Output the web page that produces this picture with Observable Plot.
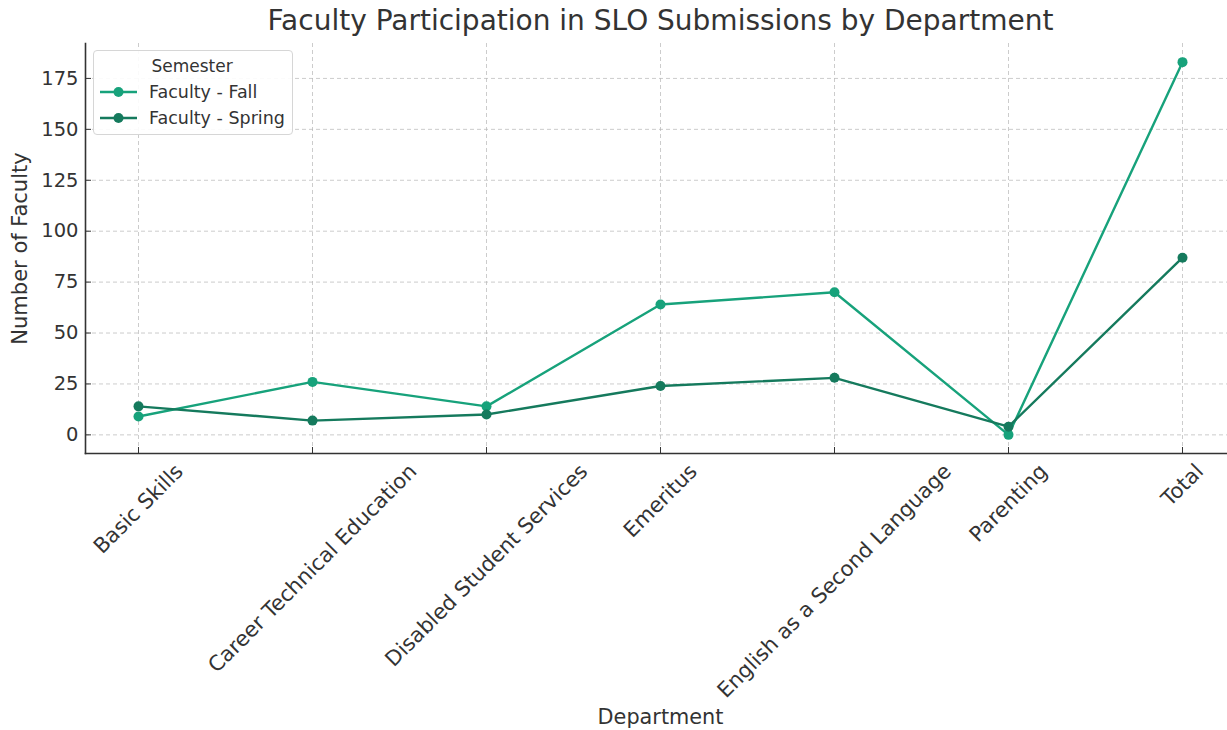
<!DOCTYPE html>
<html>
<head>
<meta charset="utf-8">
<script src="https://cdn.jsdelivr.net/npm/d3@7"></script>
<script src="https://cdn.jsdelivr.net/npm/@observablehq/plot@0.6"></script>
<style>
  html, body { margin: 0; padding: 0; background: white; }
  #wrap { position: relative; width: 1227px; height: 730px; font-family: "DejaVu Sans", sans-serif; }
  #legend { position: absolute; left: 93px; top: 50px; width: 200px; height: 85px; box-sizing: border-box;
    border: 1px solid #d6d6d6; border-radius: 4px; background: rgba(255,255,255,0.9); color: #333; }
  #legend .title { text-align: center; font-size: 17px; margin-top: 5px; margin-left: -2px; height: 23px; }
  #legend .item { display: flex; align-items: center; font-size: 17.5px; height: 26px; margin-left: 6px; }
  #legend svg { margin-right: 12px; }
</style>
</head>
<body>
<div id="wrap"></div>
<script>
const departments = ["Basic Skills", "Career Technical Education", "Disabled Student Services", "Emeritus", "English as a Second Language", "Parenting", "Total"];
const fall = [9, 26, 14, 64, 70, 0, 183];
const spring = [14, 7, 10, 24, 28, 4, 87];
const seriesNames = ["Faculty - Fall", "Faculty - Spring"];
const seriesColors = ["#17a27b", "#157a5d"];
const yTicks = [0, 25, 50, 75, 100, 125, 150, 175];
const title = "Faculty Participation in SLO Submissions by Department";
const xLabel = "Department";
const yLabel = "Number of Faculty";
const legendTitle = "Semester";

const values = [fall, spring];
const data = seriesNames.flatMap((s, i) => departments.map((d, j) => ({series: s, dept: d, value: values[i][j]})));

const tickFont = 21;
const ctx = document.createElement("canvas").getContext("2d");
ctx.font = `${tickFont}px "DejaVu Sans"`;

const gridStyle = {stroke: "#b8b8b8", strokeDasharray: "4,3", strokeWidth: 0.9, strokeOpacity: 0.8};

const marks = [
  Plot.gridX(departments, gridStyle),
  Plot.gridY(yTicks, gridStyle),
  Plot.axisY({ticks: yTicks, tickSize: -6, tickPadding: 13, fontSize: 19.5, label: null, stroke: "#333", fill: "#333"}),
  Plot.axisX({tickSize: -6, tickFormat: () => "", label: null, stroke: "#333"}),
  Plot.frame({anchor: "left", stroke: "#333", strokeWidth: 1.6}),
  Plot.frame({anchor: "bottom", stroke: "#333", strokeWidth: 1.6}),
];
// rotated tick labels, bounding box centred under each tick
departments.forEach((d) => {
  const w = ctx.measureText(d).width;
  marks.push(Plot.text([d], {x: (v) => v, frameAnchor: "bottom", rotate: -45, textAnchor: "middle", lineAnchor: "middle",
    dy: 7 + 0.3536 * (w + tickFont), fontSize: tickFont, fill: "#333"}));
});
seriesNames.forEach((s) => {
  const sub = data.filter(d => d.series === s);
  marks.push(Plot.line(sub, {x: "dept", y: "value", stroke: "series", strokeWidth: 2.4}));
  marks.push(Plot.dot(sub, {x: "dept", y: "value", fill: "series", r: 5}));
});
marks.push(Plot.text([title], {frameAnchor: "top", dy: -22, fontSize: 28, fill: "#333", textAnchor: "middle", lineAnchor: "middle"}));
marks.push(Plot.text([xLabel], {frameAnchor: "bottom", dy: 264, fontSize: 20.8, fill: "#333", textAnchor: "middle", lineAnchor: "middle"}));
marks.push(Plot.text([yLabel], {frameAnchor: "left", dx: -65, rotate: -90, fontSize: 21, fill: "#333", textAnchor: "middle", lineAnchor: "middle"}));

const chart = Plot.plot({
  width: 1227, height: 730,
  marginTop: 43, marginLeft: 85, marginRight: -8, marginBottom: 277,
  style: {fontFamily: "DejaVu Sans, sans-serif", color: "#333", background: "white", overflow: "visible"},
  x: {type: "point", domain: departments, padding: 0.3, label: null},
  y: {domain: [-9.15, 192.15], label: null},
  color: {domain: seriesNames, range: seriesColors},
  marks
});
const wrap = document.getElementById("wrap");
wrap.appendChild(chart);

const legend = document.createElement("div");
legend.id = "legend";
legend.innerHTML = `<div class="title">${legendTitle}</div>` + seriesNames.map((s, i) =>
  `<div class="item"><svg width="37" height="12"><line x1="0" y1="6" x2="37" y2="6" stroke="${seriesColors[i]}" stroke-width="2.4"/><circle cx="18.5" cy="6" r="5" fill="${seriesColors[i]}"/></svg>${s}</div>`
).join("");
wrap.appendChild(legend);
</script>
</body>
</html>
